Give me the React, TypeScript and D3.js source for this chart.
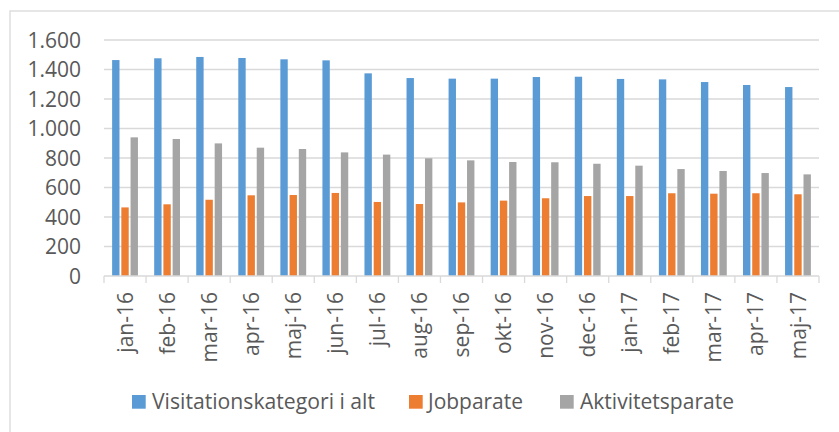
import React from "react";
import * as d3 from "d3";

const months = [
  "jan-16", "feb-16", "mar-16", "apr-16", "maj-16", "jun-16", "jul-16", "aug-16", "sep-16",
  "okt-16", "nov-16", "dec-16", "jan-17", "feb-17", "mar-17", "apr-17", "maj-17",
];
const visitation = [1464, 1476, 1485, 1478, 1469, 1462, 1374, 1342, 1338, 1338, 1349, 1351, 1336, 1333, 1315, 1295, 1281];
const jobparate = [465, 486, 517, 547, 549, 563, 502, 488, 499, 511, 527, 542, 542, 561, 558, 561, 554];
const aktivitet = [940, 929, 899, 870, 861, 838, 823, 798, 784, 773, 771, 761, 748, 725, 712, 698, 689];
const seriesNames = ["Visitationskategori i alt", "Jobparate", "Aktivitetsparate"];
const yTicks = [0, 200, 400, 600, 800, 1000, 1200, 1400, 1600];

const colors = ["#5b9bd5", "#ed7d31", "#a5a5a5"];
const textColor = "#595959";
const gridColor = "#d9d9d9";
const font = "'Open Sans', 'Noto Sans', sans-serif";

// legend layout: square x, text x, text width
const legendPos = [
  { sq: 132, tx: 152, tw: 223 },
  { sq: 409, tx: 428, tw: 95 },
  { sq: 560, tx: 580, tw: 154 },
];

const fmt = d3.formatLocale({ decimal: ",", thousands: ".", grouping: [3], currency: ["", ""] }).format(",");

export default function App() {
  const width = 839;
  const height = 432;
  const left = 104;
  const right = 819;
  const top = 40;
  const bottom = 276;

  const x = d3.scaleBand<string>().domain(months).range([left, right]).padding(0);
  const inner = d3
    .scaleBand<number>()
    .domain([0, 1, 2])
    .range([0, x.bandwidth()])
    .paddingInner(0.2)
    .paddingOuter(0.88);
  const y = d3.scaleLinear().domain([0, 1600]).range([bottom, top]);

  const rows = months.map((m, i) => ({ m, vals: [visitation[i], jobparate[i], aktivitet[i]] }));

  return (
    <svg
      width={width}
      height={height}
      style={{ position: "absolute", left: 0, top: 0, background: "#fff" }}
      fontFamily={font}
    >
      <rect x={10} y={11} width={840} height={430} fill="#fff" stroke={gridColor} strokeWidth={1.3} />

      {yTicks.map((t) => (
        <g key={t}>
          {t > 0 && <line x1={left} x2={right} y1={y(t)} y2={y(t)} stroke={gridColor} strokeWidth={1.3} />}
          <text x={81} y={y(t)} dy="0.36em" textAnchor="end" fontSize={21} fill={textColor}>
            {fmt(t)}
          </text>
        </g>
      ))}

      {rows.map((r) => (
        <g key={r.m} transform={`translate(${x(r.m)},0)`}>
          {r.vals.map((v, k) => (
            <rect
              key={k}
              x={inner(k)}
              y={y(v)}
              width={inner.bandwidth()}
              height={y(0) - y(v)}
              fill={colors[k]}
            />
          ))}
        </g>
      ))}

      <line x1={left} x2={right} y1={bottom} y2={bottom} stroke={gridColor} strokeWidth={1.3} />
      {d3.range(months.length + 1).map((i) => {
        const xx = left + i * x.step();
        return <line key={i} x1={xx} x2={xx} y1={bottom} y2={bottom + 7} stroke={gridColor} strokeWidth={1.3} />;
      })}

      {months.map((m) => {
        const cx = (x(m) as number) + x.bandwidth() / 2;
        return (
          <text
            key={m}
            transform={`translate(${cx},${292}) rotate(-90)`}
            textAnchor="end"
            dy="0.36em"
            fontSize={21}
            fill={textColor}
          >
            {m}
          </text>
        );
      })}

      {seriesNames.map((s, k) => (
        <g key={s}>
          <rect x={legendPos[k].sq} y={395} width={13.7} height={13.7} fill={colors[k]} />
          <text
            x={legendPos[k].tx}
            y={409}
            fontSize={21}
            fill={textColor}
            textLength={legendPos[k].tw}
            lengthAdjust="spacingAndGlyphs"
          >
            {s}
          </text>
        </g>
      ))}
    </svg>
  );
}
